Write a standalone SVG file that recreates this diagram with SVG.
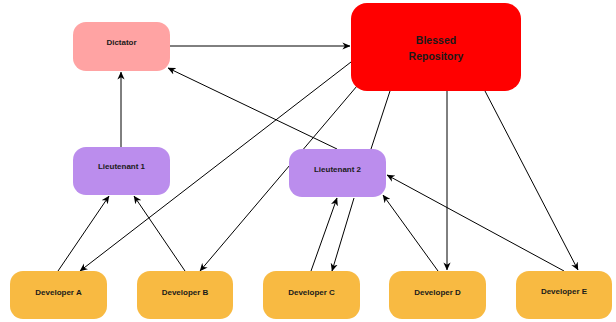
<svg xmlns="http://www.w3.org/2000/svg" width="616" height="322" viewBox="0 0 616 322">
<defs>
<marker id="arr" viewBox="0 0 10 10" refX="9.5" refY="5" markerWidth="8" markerHeight="8" markerUnits="userSpaceOnUse" orient="auto">
<path d="M0,0.5 L10,5 L0,9.5 L3,5 Z" fill="#000"/>
</marker>
<style>
.lbl{font-family:"Liberation Sans",Arial,sans-serif;font-weight:bold;font-size:8px;fill:#1a1a1a;text-anchor:middle}
.big{font-size:10.5px}
.dev{fill:#f8ba42}
.lt{fill:#bb8ded}
.c{stroke:#000;stroke-width:1;fill:none}
.a{marker-end:url(#arr)}
</style>
</defs>
<g id="connectors">
<line class="c a" x1="170" y1="46" x2="350" y2="46"/>
<line class="c a" x1="121" y1="147" x2="121" y2="72"/>
<line class="c a" x1="337" y1="149" x2="168" y2="68"/>
<line class="c a" x1="351" y1="62" x2="80" y2="271"/>
<line class="c a" x1="357" y1="86" x2="200" y2="271"/>
<line class="c" x1="390" y1="91" x2="371" y2="149"/>
<line class="c a" x1="447" y1="91" x2="447" y2="270"/>
<line class="c a" x1="485" y1="91" x2="578" y2="270"/>
<line class="c a" x1="564" y1="271" x2="387" y2="175"/>
<line class="c a" x1="438" y1="271" x2="383" y2="195"/>
<line class="c a" x1="311" y1="271" x2="337" y2="198"/>
<line class="c a" x1="354" y1="198" x2="332" y2="271"/>
<line class="c a" x1="58" y1="271" x2="109" y2="196"/>
<line class="c a" x1="185" y1="271" x2="134" y2="196"/>
</g>
<g id="dictator">
<rect x="73" y="22" width="97" height="49" rx="13" fill="#ffa3a3"/>
<text class="lbl" x="121.5" y="45">Dictator</text>
</g>
<g id="blessed">
<rect x="351" y="3" width="170" height="88" rx="16" fill="#ff0000"/>
<text class="lbl big" x="436" y="44">Blessed</text>
<text class="lbl big" x="436" y="60">Repository</text>
</g>
<g id="lieutenant1">
<rect class="lt" x="73" y="147" width="97" height="48" rx="13"/>
<text class="lbl" x="121.5" y="169">Lieutenant 1</text>
</g>
<g id="lieutenant2">
<rect class="lt" x="289" y="149" width="97" height="48" rx="13"/>
<text class="lbl" x="337.5" y="172">Lieutenant 2</text>
</g>
<g id="devA">
<rect class="dev" x="10" y="271" width="97" height="48" rx="13"/>
<text class="lbl" x="58.5" y="295">Developer A</text>
</g>
<g id="devB">
<rect class="dev" x="137" y="271" width="96" height="48" rx="13"/>
<text class="lbl" x="185" y="295">Developer B</text>
</g>
<g id="devC">
<rect class="dev" x="263" y="271" width="97" height="48" rx="13"/>
<text class="lbl" x="311.5" y="295">Developer C</text>
</g>
<g id="devD">
<rect class="dev" x="389" y="271" width="97" height="48" rx="13"/>
<text class="lbl" x="437.5" y="295">Developer D</text>
</g>
<g id="devE">
<rect class="dev" x="516" y="271" width="96" height="48" rx="13"/>
<text class="lbl" x="564" y="294">Developer E</text>
</g>
</svg>
